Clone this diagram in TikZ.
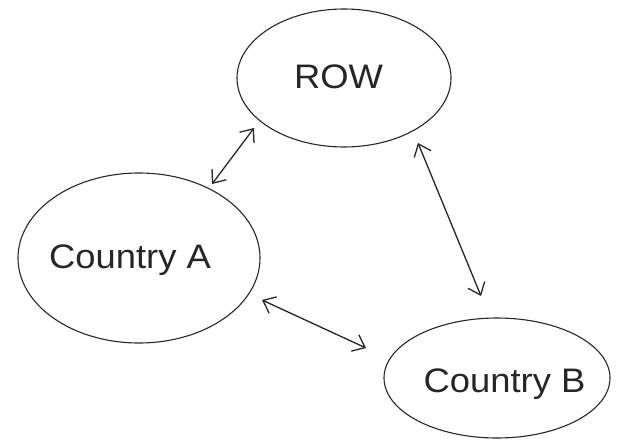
\documentclass[tikz,border=0pt]{standalone}
\usepackage{fontspec}
\setmainfont{Liberation Sans}
\usetikzlibrary{arrows.meta,shapes.geometric}
\begin{document}
\begin{tikzpicture}[x=1pt,y=-1pt,
  ell/.style={draw=black!85, line width=1.1pt, ellipse, inner sep=0pt},
  lbl/.style={font=\fontsize{34}{36}\selectfont, text=black!85, anchor=base, inner sep=0pt, xscale=1.07},
  link/.style={draw=black!85, line width=1.3pt, {Straight Barb[length=11pt,width=18pt]}-{Straight Barb[length=11pt,width=18pt]}}]
\useasboundingbox (0,0) rectangle (623,441);
\node[ell, minimum width=214pt, minimum height=138pt] (row) at (344,78) {};
\node[ell, minimum width=242pt, minimum height=170pt] (ca) at (139,258) {};
\node[ell, minimum width=226pt, minimum height=120pt] (cb) at (497,378) {};
\node[lbl] (rowt) at (338.5,89) {ROW};
\node[lbl] (cat) at (130,268) {Country A};
\node[lbl] (cbt) at (504.5,392) {Country B};
\coordinate (a1) at (212,184);
\coordinate (r1) at (254,128);
\coordinate (r2) at (418,143);
\coordinate (b1) at (481,296);
\coordinate (a2) at (262,300);
\coordinate (b2) at (366,348);
\draw[link] (a1) -- (r1);
\draw[link] (r2) -- (b1);
\draw[link] (a2) -- (b2);
\end{tikzpicture}
\end{document}
